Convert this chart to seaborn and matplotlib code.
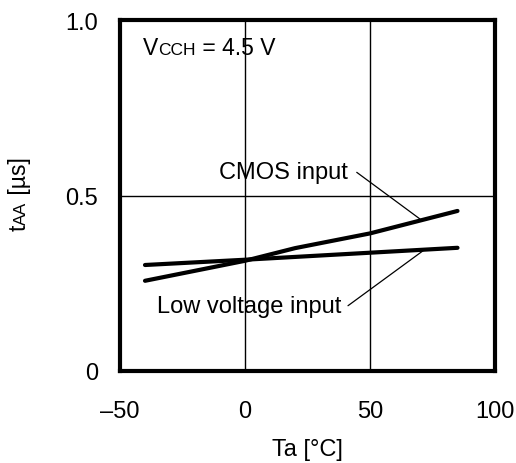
import pandas as pd
import seaborn as sns
import matplotlib.pyplot as plt
from matplotlib.ticker import FuncFormatter

# Data
temp = [-40, 0, 20, 40, 50, 85]
cmos_taa = [0.257, 0.314, 0.350, 0.378, 0.392, 0.456]
low_v_taa = [0.302, 0.317, 0.325, 0.333, 0.337, 0.351]

x_ticks = [-50, 0, 50, 100]
y_ticks = [0, 0.5, 1.0]

sns.set_style("white")
plt.rcParams['font.family'] = ['Liberation Sans', 'DejaVu Sans']
plt.rcParams['text.color'] = 'black'
plt.rcParams['xtick.color'] = 'black'
plt.rcParams['ytick.color'] = 'black'

df = pd.DataFrame({
    'Ta': temp * 2,
    'tAA': cmos_taa + low_v_taa,
    'Input': ['CMOS input'] * len(temp) + ['Low voltage input'] * len(temp),
})

fig = plt.figure(figsize=(5.16, 4.64), dpi=100)
ax = fig.add_axes([120 / 516, 1 - 372 / 464, 375 / 516, 351 / 464])

sns.lineplot(data=df, x='Ta', y='tAA', units='Input', estimator=None,
             color='black', lw=3, ax=ax, legend=False)

ax.set_xlim(-50, 100)
ax.set_ylim(0, 1.0)
ax.set_xticks(x_ticks)
ax.set_yticks(y_ticks)
ax.xaxis.set_major_formatter(FuncFormatter(lambda v, p: f"{v:.0f}".replace('-', '\u2013')))
ax.yaxis.set_major_formatter(FuncFormatter(lambda v, p: '0' if v == 0 else f"{v:.1f}"))
ax.tick_params(axis='both', length=0, labelsize=17, labelcolor='black')
ax.tick_params(axis='x', pad=21)
ax.tick_params(axis='y', pad=16)

# grid lines at 0, 50 and 0.5
for gx in [0, 50]:
    ax.axvline(gx, color='black', lw=1.0, zorder=1)
ax.axhline(0.5, color='black', lw=1.0, zorder=1)

for sp in ax.spines.values():
    sp.set_visible(True)
    sp.set_color('black')
    sp.set_linewidth(3)

ax.set_xlabel('')
ax.set_ylabel('')
ax.text(0.5, -0.19, 'Ta [\u00b0C]', transform=ax.transAxes, ha='center', va='top', fontsize=17)

# curve labels with leader lines
ax.text(41.2, 0.567, 'CMOS input', ha='right', va='center', fontsize=17)
ax.plot([44.7, 70], [0.566, 0.433], color='black', lw=0.9)
ax.text(38.7, 0.184, 'Low voltage input', ha='right', va='center', fontsize=17)
ax.plot([41.2, 71.3], [0.186, 0.343], color='black', lw=0.9)

fig.canvas.draw()
renderer = fig.canvas.get_renderer()


def chain_text(parts, x, y, rotation=0):
    # place text pieces one after another, in pixel coordinates
    for s, size in parts:
        t = fig.text(x / fig.bbox.width, y / fig.bbox.height, s, fontsize=size,
                     rotation=rotation, rotation_mode='anchor',
                     ha='left', va='baseline', color='black')
        bb = t.get_window_extent(renderer)
        if rotation == 90:
            y += bb.height
        else:
            x += bb.width


# VCCH = 4.5 V
chain_text([('V', 16.5), ('CCH', 12.5), (' = 4.5 V', 16.5)], 143, 464 - 55)

# y label tAA [µs], rotated
chain_text([('t', 16.5), ('AA', 12.5), (' [\u00b5s]', 16.5)], 26, 464 - 231, rotation=90)

fig.savefig('out.png', dpi=100)
